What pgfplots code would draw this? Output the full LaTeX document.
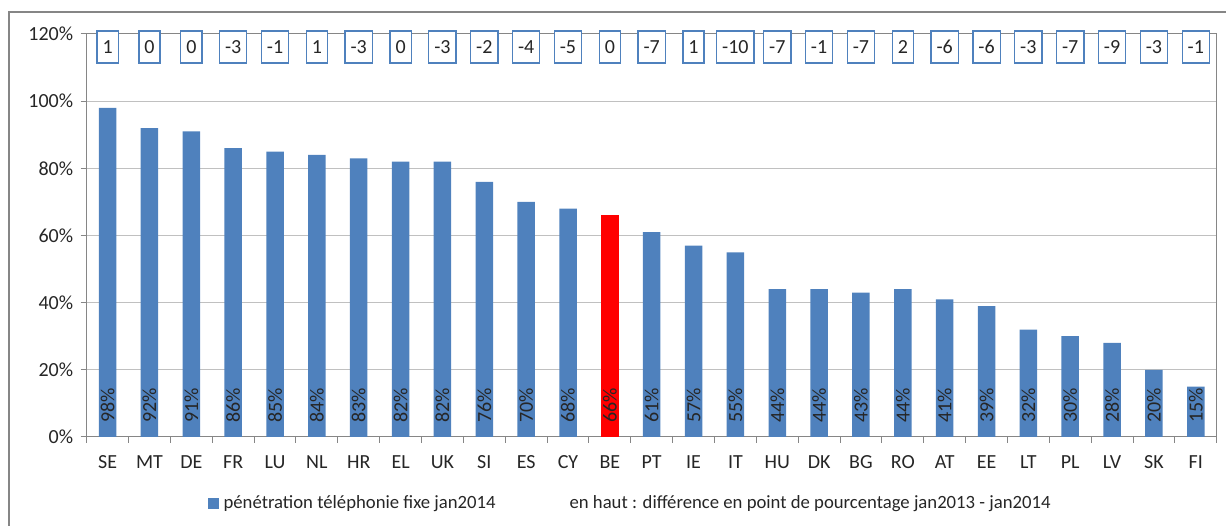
\documentclass[border=0pt]{standalone}
\usepackage{fontspec}
\setmainfont{Carlito}
\usepackage{pgfplots}
\pgfplotsset{compat=1.18}
\usepackage{pgfplotstable}

\definecolor{barblue}{HTML}{4F81BD}
\definecolor{bered}{HTML}{FF0000}
\definecolor{gridgray}{HTML}{C0C0C0}
\definecolor{axisgray}{HTML}{868686}
\definecolor{txt}{HTML}{262626}

% penetration fixe jan2014 (%) and change jan2013-jan2014 (points)
\pgfplotstableread{
idx name val diff
0  SE 98 1
1  MT 92 0
2  DE 91 0
3  FR 86 -3
4  LU 85 -1
5  NL 84 1
6  HR 83 -3
7  EL 82 0
8  UK 82 -3
9  SI 76 -2
10 ES 70 -4
11 CY 68 -5
12 BE 66 0
13 PT 61 -7
14 IE 57 1
15 IT 55 -10
16 HU 44 -7
17 DK 44 -1
18 BG 43 -7
19 RO 44 2
20 AT 41 -6
21 EE 39 -6
22 LT 32 -3
23 PL 30 -7
24 LV 28 -9
25 SK 20 -3
26 FI 15 -1
}\penetration

\begin{document}
\begin{tikzpicture}
\begin{axis}[
    name=ax,
    at={(0,0)}, anchor=south west,
    scale only axis,
    width=1130pt, height=403pt,
    xmin=-0.5, xmax=26.5,
    ymin=0, ymax=120,
    xtick={0,...,26},
    xticklabels from table={\penetration}{name},
    ytick={0,20,...,120},
    yticklabel={\pgfmathprintnumber{\tick}\%},
    /pgf/number format/assume math mode=true,
    ymajorgrids,
    grid style={gridgray, line width=1pt},
    axis line style={axisgray, line width=1pt},
    tick align=outside,
    tick pos=left,
    major tick length=6pt,
    minor tick length=6pt,
    major x tick style={draw=none},
    minor xtick={-0.5,0.5,...,26.5},
    minor x tick style={axisgray, line width=1pt},
    y tick style={axisgray, line width=1pt},
    tick label style={font=\fontsize{20}{24}\selectfont, text=txt},
    xticklabel style={yshift=-9pt},
    yticklabel style={xshift=-4pt},
    legend style={
        at={(0.1047,-0.1638)}, anchor=west,
        draw=none, fill=none,
        legend columns=2,
        font=\fontsize{18.7}{22}\selectfont, text=txt,
        /tikz/every even column/.append style={column sep=70pt},
    },
]

% bars
\addplot[ybar, bar width=17.5pt, bar shift=0pt, fill=barblue, draw=none, forget plot]
    table[x=idx, y=val] {\penetration};
\addplot[ybar, bar width=17.5pt, bar shift=0pt, fill=bered, draw=none, forget plot]
    coordinates {(12,66)};

% value labels inside the bars
\addplot[draw=none, mark=none, forget plot,
    point meta=explicit,
    nodes near coords={\pgfmathprintnumber{\pgfplotspointmeta}\%},
    every node near coord/.append style={rotate=90, anchor=west, inner sep=0pt,
        font=\fontsize{20}{24}\selectfont, text=txt}]
    table[x=idx, y expr=4.2, meta=val] {\penetration};

% boxed differences on top
\addplot[draw=none, mark=none, forget plot,
    point meta=explicit,
    nodes near coords,
    every node near coord/.append style={anchor=center, draw=barblue, line width=1.3pt,
        fill=white, minimum height=32pt, inner xsep=5.5pt,
        font=\fontsize{20}{24}\selectfont, text=txt}]
    table[x=idx, y expr=116.1, meta=diff] {\penetration};

\addlegendimage{legend image code/.code={\fill[barblue] (0pt,-5pt) rectangle (10pt,5pt); \path (13pt,0pt);}}
\addlegendentry{pénétration téléphonie fixe jan2014}
\addlegendimage{empty legend}
\addlegendentry{en haut : différence en point de pourcentage jan2013 - jan2014}
\end{axis}

% chart frame
\draw[axisgray, line width=1.5pt]
    ([shift={(-77.7pt,-120pt)}]ax.south west) -- ([shift={(-77.7pt,425pt)}]ax.south west)
    -- ([shift={(1160pt,425pt)}]ax.south west);

\pgfresetboundingbox
\path ([shift={(-86.7pt,-89pt)}]ax.south west) rectangle ([shift={(1139.3pt,437pt)}]ax.south west);
\end{tikzpicture}
\end{document}
